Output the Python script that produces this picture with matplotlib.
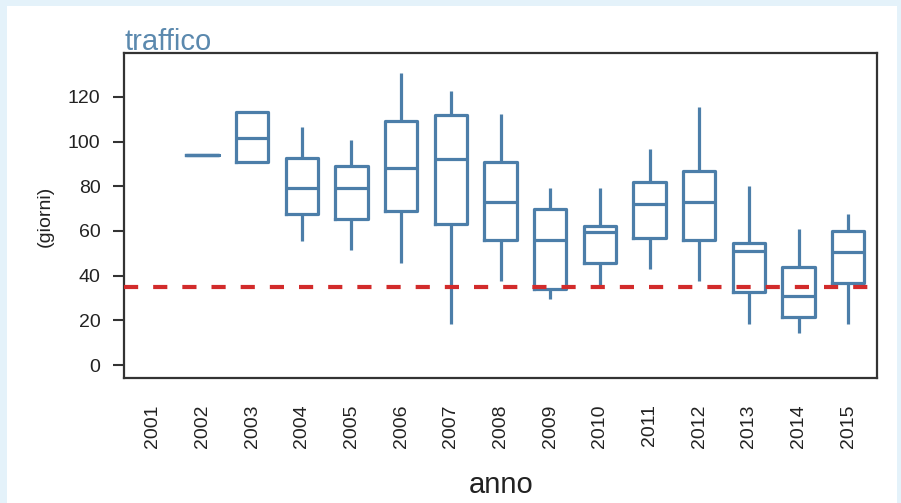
import matplotlib
matplotlib.use("Agg")
import matplotlib.pyplot as plt
from matplotlib.patches import Rectangle

# Annual distribution of exceedance days (traffic stations)
years = ["2001", "2002", "2003", "2004", "2005", "2006", "2007", "2008",
         "2009", "2010", "2011", "2012", "2013", "2014", "2015"]
# 2001 has no data (None)
whisker_low = [None, 94, 91, 55.5, 51.5, 45.5, 18.5, 37.5, 29.5, 35.5, 43, 37.5, 18.5, 14.5, 18.5]
q1          = [None, 94, 91, 67.5, 65.5, 69, 63, 56, 34, 45.5, 57, 56, 32.5, 21.5, 36.5]
median      = [None, 94, 101.5, 79, 79, 88, 92, 73, 56, 59.5, 72, 73, 51, 31, 50.5]
q3          = [None, 94, 113, 92.5, 89, 109, 112, 91, 70, 62, 82, 87, 54.5, 44, 60]
whisker_high = [None, 94, 113, 106.5, 100.5, 130.5, 122.5, 112.5, 79, 79, 96.5, 115.5, 80, 61, 67.5]

threshold = 35
yticks = [0, 20, 40, 60, 80, 100, 120]

box_color = "#4c7ea9"
title_color = "#5b89ae"
frame_color = "#333333"

W, H = 901, 503
fig = plt.figure(figsize=(W / 100, H / 100), dpi=100)
fig.patch.set_facecolor("#e4f2fa")
# white page area
fig.patches.append(Rectangle((7 / W, 0), (897 - 7) / W, 1 - 6 / H,
                             transform=fig.transFigure, facecolor="white",
                             edgecolor="none", zorder=-5))

ax = fig.add_axes([124 / W, 1 - 378 / H, (877 - 124) / W, (378 - 53) / H])
ax.set_facecolor("white")
ax.set_zorder(2)

stats, positions = [], []
for i, y in enumerate(years):
    if median[i] is None:
        continue
    stats.append(dict(whislo=whisker_low[i], q1=q1[i], med=median[i],
                      q3=q3[i], whishi=whisker_high[i], fliers=[], label=y))
    positions.append(i + 1)

lw = 2.3
ax.bxp(stats, positions=positions, widths=0.65, showcaps=False,
       showfliers=False, manage_ticks=False,
       boxprops=dict(color=box_color, linewidth=lw),
       whiskerprops=dict(color=box_color, linewidth=lw, solid_capstyle="butt"),
       medianprops=dict(color=box_color, linewidth=lw),
       zorder=3)

ax.axhline(threshold, color="#d22b2b", linewidth=3,
           linestyle=(0, (3.4, 3.6)), zorder=4)

ax.set_xlim(0.42, 15.58)
ax.set_ylim(-5.8, 139.6)

ax.set_xticks(range(1, len(years) + 1))
ax.set_xticklabels(years, rotation=90, fontsize=14, family="Liberation Sans",
                   color="#222222")
ax.tick_params(axis="x", length=0, pad=19)
ax.set_yticks(yticks)
ax.set_yticklabels([str(v) for v in yticks], fontsize=14,
                   family="Liberation Sans", color="#222222")
ax.tick_params(axis="y", length=8, width=1.5, color=frame_color, pad=9)

for s in ax.spines.values():
    s.set_color(frame_color)
    s.set_linewidth(1.6)

fig.text(125 / W, 1 - 50 / H, "traffico", fontsize=21, color=title_color,
         family="Liberation Sans", ha="left", va="baseline")
fig.text(45 / W, 1 - 216 / H, "(giorni)", fontsize=14, rotation=90,
         family="Liberation Sans", ha="center", va="center", color="#222222")
fig.text(501 / W, 1 - 493 / H, "anno", fontsize=21, family="Liberation Sans",
         ha="center", va="baseline", color="#222222")

fig.savefig("out.png", dpi=100, facecolor=fig.get_facecolor())
